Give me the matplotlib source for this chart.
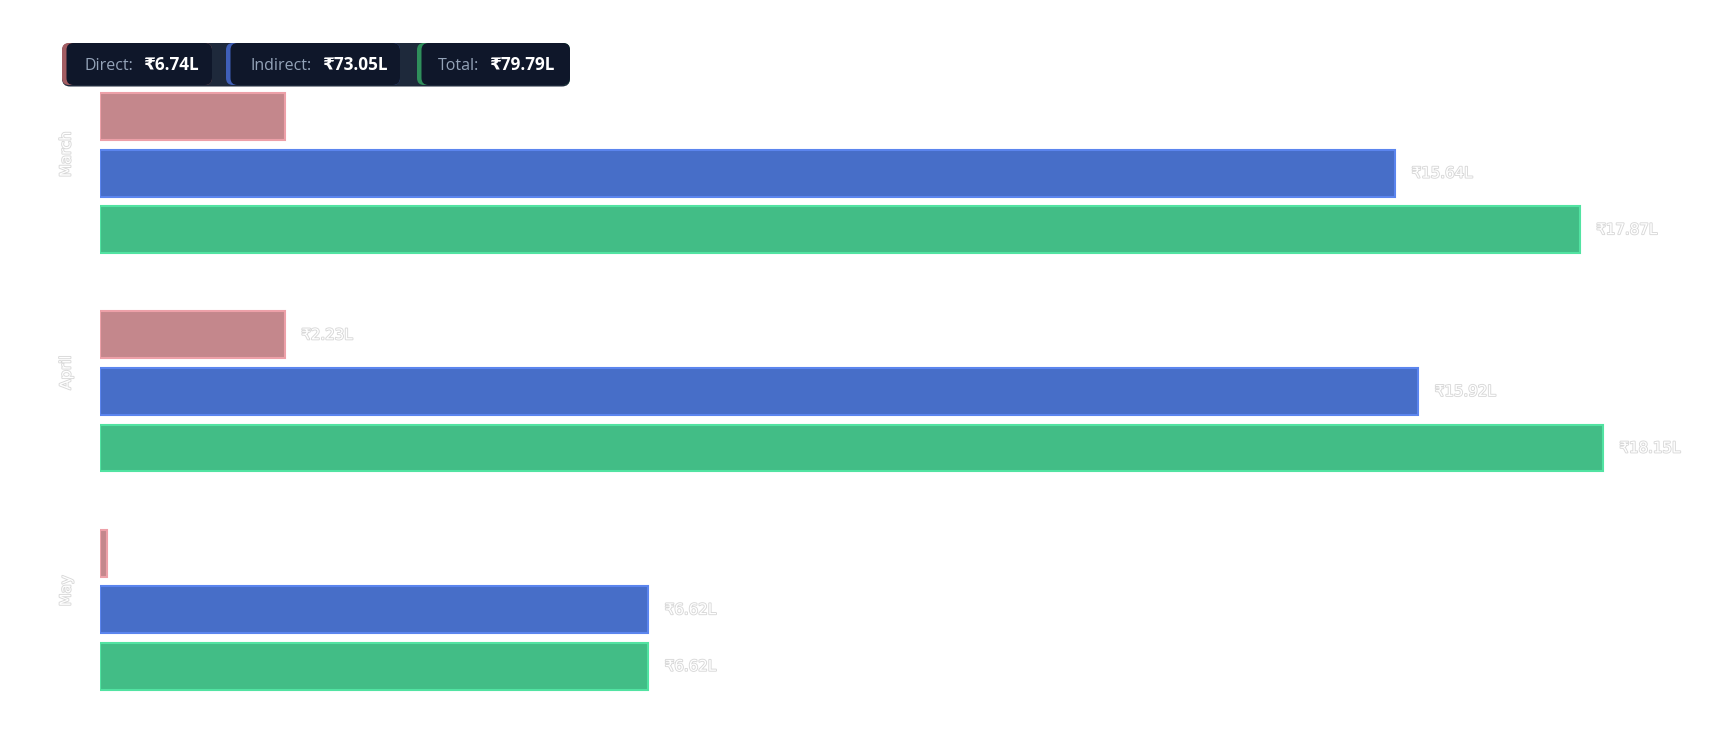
import matplotlib
matplotlib.use("Agg")
import matplotlib.pyplot as plt
import matplotlib.patheffects as pe
from matplotlib.patches import FancyBboxPatch
from matplotlib import transforms
import numpy as np

# ---- data ----
months = ["March", "April", "May"]
series_names = ["Direct", "Indirect", "Total"]
direct = [2.23, 2.23, 0.08]
indirect = [15.64, 15.92, 6.62]
total = [17.87, 18.15, 6.62]
show_direct_label = [False, True, False]
show_indirect_label = [True, True, True]
show_total_label = [True, True, True]
summary_values = [6.74, 73.05, 79.79]

fill_colors = ["#c4878c", "#476ec8", "#42bd86"]
edge_colors = ["#eda0a8", "#5b85ee", "#52e3a2"]
accent_colors = ["#a35d62", "#3f5fb8", "#2f8f5b"]

W, H = 1720, 756
fig = plt.figure(figsize=(W / 100, H / 100), dpi=100)
fig.patch.set_facecolor("white")

ax_left_px, ax_top_px = 100, 64
px_per_unit_x = 82.8
group_px = 218.3
ax_w_px = 1599.6
ax_h_px = 3 * group_px
ax = fig.add_axes([ax_left_px / W, 1 - (ax_top_px + ax_h_px) / H, ax_w_px / W, ax_h_px / H])
ax.set_xlim(0, ax_w_px / px_per_unit_x)
ax.set_ylim(len(months) - 0.5, -0.5)
ax.axis("off")

y = np.arange(len(months))
step = 0.259
bar_h = 0.215
series = [direct, indirect, total]
shows = [show_direct_label, show_indirect_label, show_total_label]

label_effects = [pe.withStroke(linewidth=1.3, foreground="#d8d8d8")]

for k, (vals, show) in enumerate(zip(series, shows)):
    pos = y + (k - 1) * step
    bars = ax.barh(pos, vals, height=bar_h, color=fill_colors[k],
                   edgecolor=edge_colors[k], linewidth=1.5)
    for b, v, s in zip(bars, vals, show):
        if s:
            ax.annotate(f"₹{v:.2f}L", xy=(b.get_width(), b.get_y() + b.get_height() / 2),
                        xytext=(12, 0), textcoords="offset points",
                        ha="left", va="center", fontsize=10.8, color="white",
                        family=["DejaVu Sans"], path_effects=label_effects)

ylab_tr = transforms.offset_copy(ax.get_yaxis_transform(), fig=fig, x=-34, y=19, units="dots")
for i, m in enumerate(months):
    ax.text(0, i, m, transform=ylab_tr, rotation=90, ha="center", va="center",
            fontsize=10.8, color="white", family=["DejaVu Sans"], path_effects=label_effects)

# ---- header summary (overlay in pixel coords) ----
ov = fig.add_axes([0, 0, 1, 1])
ov.set_xlim(0, W)
ov.set_ylim(H, 0)
ov.axis("off")
ov.patch.set_alpha(0)

def rbox(x0, y0, x1, y1, color, r=7, z=1):
    p = FancyBboxPatch((x0 + r, y0 + r), (x1 - x0) - 2 * r, (y1 - y0) - 2 * r,
                       boxstyle=f"round,pad={r},rounding_size={r}",
                       facecolor=color, edgecolor="none", zorder=z)
    ov.add_patch(p)

hdr_fonts = ["Open Sans", "Noto Sans", "DejaVu Sans"]
val_fonts = ["Open Sans", "DejaVu Sans"]
rbox(62, 43, 570, 86.5, "#1e293b", r=8, z=1)
pills = [(62, 212), (226, 400), (417, 570)]
label_x = [84, 251, 438]
value_x = [143, 322, 489]
for k, (x0, x1) in enumerate(pills):
    rbox(x0, 43, x1, 85, accent_colors[k], r=7, z=2)
    rbox(x0 + 4.5, 43, x1, 85, "#0f172a", r=7, z=3)
    ov.text(label_x[k], 65.5, f"{series_names[k]}:", ha="left", va="center",
            fontsize=11.5, color="#94a3b8", family=hdr_fonts, zorder=4)
    ov.text(value_x[k], 65.5, f"₹{summary_values[k]:.2f}L", ha="left", va="center",
            fontsize=12.3, color="white", fontweight="bold",
            family=val_fonts, zorder=4)

fig.savefig("out.png", dpi=100, facecolor="white")
